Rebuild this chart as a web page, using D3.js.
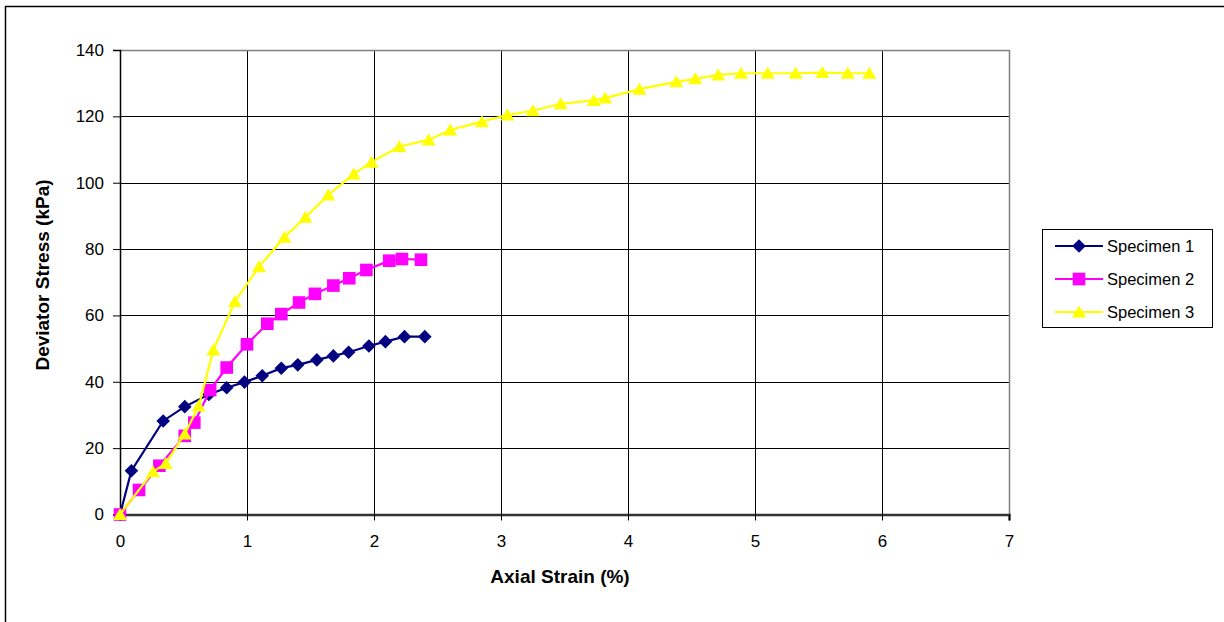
<!DOCTYPE html>
<html>
<head>
<meta charset="utf-8">
<script src="https://cdn.jsdelivr.net/npm/d3@7"></script>
<style>
  html, body { margin: 0; padding: 0; background: #fff; }
  svg { display: block; font-family: "Liberation Sans", Arial, sans-serif; }
</style>
</head>
<body>
<svg id="chart" width="1224" height="622"></svg>
<script>
// ---- data ----
const seriesNames = ["Specimen 1", "Specimen 2", "Specimen 3"];
const s1Strain = [0, 0.09, 0.34, 0.51, 0.70, 0.84, 0.98, 1.12, 1.27, 1.40, 1.55, 1.68, 1.80, 1.96, 2.09, 2.24, 2.40];
const s1Stress = [0, 13.2, 28.2, 32.5, 36.2, 38.2, 39.9, 41.8, 44.1, 45.1, 46.6, 47.8, 48.9, 50.8, 52.1, 53.6, 53.6];
const s2Strain = [0, 0.15, 0.31, 0.51, 0.585, 0.71, 0.84, 1.0, 1.16, 1.27, 1.41, 1.535, 1.68, 1.805, 1.94, 2.12, 2.22, 2.37];
const s2Stress = [0, 7.4, 14.7, 23.7, 27.7, 37.5, 44.3, 51.3, 57.5, 60.4, 63.9, 66.5, 69.0, 71.2, 73.7, 76.5, 77.0, 76.8];
const s3Strain = [0, 0.26, 0.36, 0.51, 0.62, 0.735, 0.905, 1.095, 1.295, 1.46, 1.64, 1.84, 1.98, 2.20, 2.43, 2.60, 2.85, 3.05, 3.25, 3.47, 3.73, 3.82, 4.09, 4.38, 4.53, 4.71, 4.89, 5.10, 5.32, 5.53, 5.73, 5.90];
const s3Stress = [0, 12.9, 15.4, 24.3, 32.7, 49.6, 64.2, 74.7, 83.6, 89.6, 96.3, 102.6, 106.2, 110.9, 112.9, 115.9, 118.4, 120.4, 121.7, 123.8, 124.8, 125.5, 128.2, 130.4, 131.3, 132.5, 133.0, 133.0, 133.0, 133.2, 133.0, 133.0];
const xTicks = [0, 1, 2, 3, 4, 5, 6, 7];
const yTicks = [0, 20, 40, 60, 80, 100, 120, 140];
const xTitle = "Axial Strain (%)";
const yTitle = "Deviator Stress (kPa)";

// ---- layout ----
const svg = d3.select("#chart");
const pLeft = 120, pRight = 1009, pTop = 50, pBottom = 514.5;
const x = d3.scaleLinear().domain([0, 7]).range([pLeft, pRight]);
const y = d3.scaleLinear().domain([0, 140]).range([pBottom, pTop]);

const colors = ["#000080", "#FF00FF", "#FFFF00"];
// marker shapes (Excel style): diamond, square, triangle
const markerPaths = [
  "M0,-6.8L6.8,0L0,6.8L-6.8,0Z",
  "M-6.3,-6.3H6.3V6.3H-6.3Z",
  "M0,-6.5L7,5.5H-7Z"
];

// outer frame
svg.append("rect").attr("x", 5.5).attr("y", 6.5).attr("width", 1400).attr("height", 800)
  .attr("fill", "none").attr("stroke", "#000").attr("stroke-width", 1.5);

// gridlines
const g = svg.append("g");
g.selectAll("line.hg").data(yTicks.filter(v => v > 0 && v < 140)).enter().append("line")
  .attr("x1", pLeft).attr("x2", pRight)
  .attr("y1", d => Math.round(y(d)) + 0.5).attr("y2", d => Math.round(y(d)) + 0.5)
  .attr("stroke", "#000").attr("stroke-width", 1);
g.selectAll("line.vg").data(xTicks.filter(v => v > 0 && v < 7)).enter().append("line")
  .attr("y1", pTop).attr("y2", pBottom)
  .attr("x1", d => Math.round(x(d)) + 0.5).attr("x2", d => Math.round(x(d)) + 0.5)
  .attr("stroke", "#000").attr("stroke-width", 1);

// plot border top/right gray
svg.append("path")
  .attr("d", `M${pLeft},${pTop + 0.5}H${pRight + 0.5}V${pBottom}`)
  .attr("fill", "none").attr("stroke", "#808080").attr("stroke-width", 1.5);

// axes
const yAxis = d3.axisLeft(y).tickValues(yTicks).tickSize(7).tickPadding(9).tickFormat(d3.format("d"));
const yG = svg.append("g").attr("transform", `translate(${pLeft},0)`).call(yAxis);
yG.select(".domain").attr("stroke", "#000").attr("stroke-width", 1.5);
yG.selectAll(".tick line").attr("stroke", "#000");
yG.selectAll("text").attr("font-size", 17).attr("fill", "#000")
  .attr("font-family", "Liberation Sans, Arial, sans-serif");

const xAxis = d3.axisBottom(x).tickValues(xTicks).tickSize(6).tickPadding(14).tickFormat(d3.format("d"));
const xG = svg.append("g").attr("transform", `translate(0,${pBottom})`).call(xAxis);
xG.select(".domain").attr("stroke", "#333").attr("stroke-width", 2.5);
xG.selectAll(".tick line").attr("stroke", "#000");
xG.selectAll("text").attr("font-size", 17).attr("fill", "#000")
  .attr("font-family", "Liberation Sans, Arial, sans-serif");

// titles
svg.append("text").attr("x", 560).attr("y", 583).attr("text-anchor", "middle")
  .attr("font-size", 19).attr("font-weight", "bold").text(xTitle);
svg.append("text").attr("transform", "translate(49,275) rotate(-90)")
  .attr("text-anchor", "middle").attr("font-size", 19).attr("font-weight", "bold").text(yTitle);

// series
const series = [
  { name: seriesNames[0], xs: s1Strain, ys: s1Stress },
  { name: seriesNames[1], xs: s2Strain, ys: s2Stress },
  { name: seriesNames[2], xs: s3Strain, ys: s3Stress }
];
const line = d3.line().x(d => x(d[0])).y(d => y(d[1]));
series.forEach((s, i) => {
  const pts = s.xs.map((v, j) => [v, s.ys[j]]);
  const sg = svg.append("g");
  sg.append("path").attr("d", line(pts)).attr("fill", "none")
    .attr("stroke", colors[i]).attr("stroke-width", 2.2);
  sg.selectAll("path.m").data(pts).enter().append("path")
    .attr("d", markerPaths[i])
    .attr("transform", d => `translate(${x(d[0])},${y(d[1])})`)
    .attr("fill", colors[i]).attr("stroke", "none");
});

// legend
const lg = svg.append("g");
lg.append("rect").attr("x", 1042.5).attr("y", 229.5).attr("width", 170).attr("height", 98)
  .attr("fill", "#fff").attr("stroke", "#000").attr("stroke-width", 1);
series.forEach((s, i) => {
  const cy = 246 + i * 33;
  lg.append("line").attr("x1", 1055).attr("x2", 1103).attr("y1", cy).attr("y2", cy)
    .attr("stroke", colors[i]).attr("stroke-width", 2.2);
  lg.append("path").attr("d", markerPaths[i])
    .attr("transform", `translate(1079,${cy})`).attr("fill", colors[i]);
  lg.append("text").attr("x", 1107).attr("y", cy).attr("dy", "0.35em")
    .attr("font-size", 16.5).text(s.name);
});
</script>
</body>
</html>
